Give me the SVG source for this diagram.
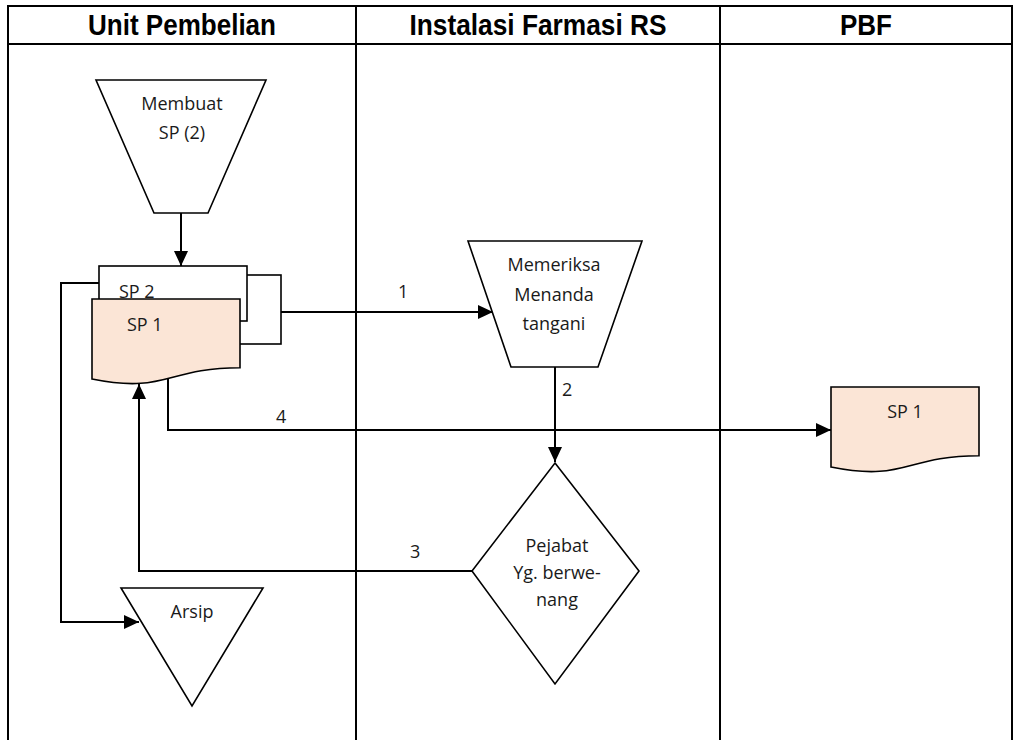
<svg xmlns="http://www.w3.org/2000/svg" width="1015" height="740" viewBox="0 0 1015 740">
<style>
.grid{stroke:#000;stroke-width:2;fill:none}
.hd{font-family:"Liberation Sans",Arial,sans-serif;font-weight:bold;font-size:29px;text-anchor:middle;fill:#000}
.sh{stroke:#000;stroke-width:1.6;fill:#fff}
.doc{stroke:#000;stroke-width:1.6;fill:#FBE5D6}
.t{font-family:"Open Sans","Noto Sans",sans-serif;font-size:18px;fill:#1a1a1a}
.c{text-anchor:middle}
.cn{stroke:#000;stroke-width:2;fill:none}
</style>
<defs>
<marker id="ah" markerUnits="userSpaceOnUse" markerWidth="16" markerHeight="14" refX="15" refY="7" orient="auto">
<path d="M0,0 L15,7 L0,14 Z" fill="#000"/>
</marker>
</defs>
<rect width="1015" height="740" fill="#fff"/>
<g id="table">
<line class="grid" x1="7" y1="6" x2="1013" y2="6"/>
<line class="grid" x1="7" y1="44" x2="1013" y2="44"/>
<line class="grid" x1="8" y1="6" x2="8" y2="740"/>
<line class="grid" x1="356" y1="6" x2="356" y2="740"/>
<line class="grid" x1="720" y1="6" x2="720" y2="740"/>
<line class="grid" x1="1012" y1="6" x2="1012" y2="740"/>
<text class="hd" x="182" y="35" textLength="188" lengthAdjust="spacingAndGlyphs">Unit Pembelian</text>
<text class="hd" x="538" y="35" textLength="257" lengthAdjust="spacingAndGlyphs">Instalasi Farmasi RS</text>
<text class="hd" x="866" y="35" textLength="52" lengthAdjust="spacingAndGlyphs">PBF</text>
</g>
<g id="connectors">
<line class="cn" x1="181" y1="213" x2="181" y2="266" marker-end="url(#ah)"/>
<line class="cn" x1="281" y1="312" x2="493" y2="312" marker-end="url(#ah)"/>
<line class="cn" x1="555" y1="367" x2="555" y2="462" marker-end="url(#ah)"/>
<polyline class="cn" points="168,379 168,430 831,430" marker-end="url(#ah)"/>
<polyline class="cn" points="472,571 139,571 139,384" marker-end="url(#ah)"/>
<polyline class="cn" points="99,283 61,283 61,622 139,622" marker-end="url(#ah)"/>
<text class="t" x="398" y="298">1</text>
<text class="t" x="562" y="396">2</text>
<text class="t" x="410" y="558">3</text>
<text class="t" x="276" y="423">4</text>
</g>
<g id="membuat">
<polygon class="sh" points="96,80 266,80 208,213 154,213"/>
<text class="t c" x="182" y="110">Membuat</text>
<text class="t c" x="182" y="139">SP (2)</text>
</g>
<g id="sp-stack">
<rect class="sh" x="130" y="275" width="151" height="69"/>
<rect class="sh" x="99" y="266" width="148" height="55"/>
<text class="t" x="119" y="298">SP 2</text>
<path class="doc" d="M92,299 H240 V367.7 C166,367.7 166,394 92,379 Z"/>
<text class="t" x="127" y="331">SP 1</text>
</g>
<g id="memeriksa">
<polygon class="sh" points="468,241 642,241 598,367 511,367"/>
<text class="t c" x="554" y="271">Memeriksa</text>
<text class="t c" x="554" y="301">Menanda</text>
<text class="t c" x="554" y="330">tangani</text>
</g>
<g id="pejabat">
<polygon class="sh" points="555,463 639,571 555,684 472,571"/>
<text class="t c" x="557" y="552">Pejabat</text>
<text class="t c" x="557" y="579">Yg. berwe-</text>
<text class="t c" x="557" y="606">nang</text>
</g>
<g id="arsip">
<polygon class="sh" points="121,588 263,588 192,706"/>
<text class="t c" x="192" y="618">Arsip</text>
</g>
<g id="sp1-pbf">
<path class="doc" d="M831,387 H979 V455.7 C905,455.7 905,482 831,467 Z"/>
<text class="t c" x="905" y="418">SP 1</text>
</g>
</svg>
